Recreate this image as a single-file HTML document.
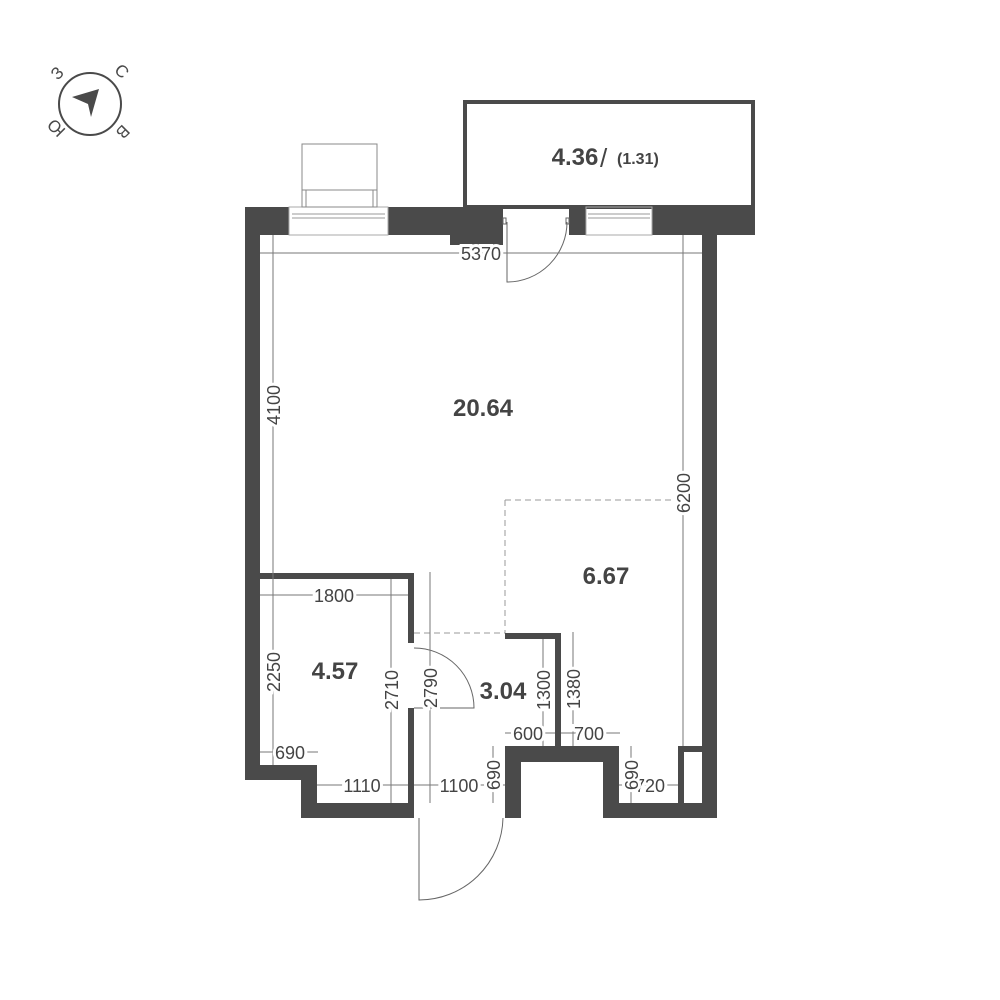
<!DOCTYPE html>
<html><head><meta charset="utf-8"><style>html,body{margin:0;padding:0;background:#fff}svg{display:block}</style></head>
<body>
<svg width="1000" height="1000" viewBox="0 0 1000 1000" xmlns="http://www.w3.org/2000/svg" font-family="Liberation Sans, DejaVu Sans, sans-serif">
<g fill="#4a4a4a">
<circle cx="90" cy="104" r="31" fill="none" stroke="#4a4a4a" stroke-width="2"/>
<path d="M72,97 L99,89 L91,117 L88,104 Z"/>
<g font-size="17" fill="#4a4a4a">
<text x="57" y="79" transform="rotate(-45 57 73)" text-anchor="middle">З</text>
<text x="122" y="77" transform="rotate(45 122 71)" text-anchor="middle">С</text>
<text x="56" y="134" transform="rotate(-135 56 128)" text-anchor="middle">Ю</text>
<text x="123" y="138" transform="rotate(135 123 132)" text-anchor="middle">В</text>
</g>
<rect x="245" y="207" width="44" height="28"/>
<rect x="388" y="207" width="115" height="28"/>
<rect x="450" y="207" width="53" height="38"/>
<rect x="569" y="207" width="17" height="28"/>
<rect x="652" y="207" width="103" height="28"/>
<rect x="245" y="207" width="15" height="573"/>
<rect x="702" y="207" width="15" height="611"/>
<rect x="245" y="573" width="169" height="6"/>
<rect x="408" y="573" width="6" height="70"/>
<rect x="408" y="708" width="6" height="110"/>
<path d="M245,765 L317,765 L317,803 L414,803 L414,818 L301,818 L301,780 L245,780 Z"/>
<rect x="505" y="746" width="16" height="72"/>
<rect x="505" y="746" width="114" height="16"/>
<rect x="603" y="746" width="16" height="72"/>
<rect x="603" y="803" width="114" height="15"/>
<rect x="678" y="746" width="24" height="6"/>
<rect x="678" y="746" width="6" height="57"/>
<rect x="555" y="633" width="6" height="113"/>
<rect x="505" y="633" width="56" height="6"/>
</g>
<g fill="none" stroke="#4a4a4a">
<rect x="465" y="102" width="288" height="105" stroke-width="4"/>
<rect x="289" y="207" width="99" height="28" stroke="#aaa" stroke-width="1"/>
<line x1="292" y1="214" x2="385" y2="214" stroke="#999"/>
<line x1="292" y1="218" x2="385" y2="218" stroke="#999"/>
<rect x="586" y="207" width="66" height="28" stroke="#aaa" stroke-width="1"/>
<line x1="588" y1="214" x2="650" y2="214" stroke="#999"/>
<line x1="588" y1="218" x2="650" y2="218" stroke="#999"/>
<rect x="302" y="144" width="75" height="63" stroke="#888" stroke-width="1"/>
<line x1="302" y1="190" x2="377" y2="190" stroke="#888"/>
<line x1="306" y1="190" x2="306" y2="207" stroke="#888"/>
<line x1="373" y1="190" x2="373" y2="207" stroke="#888"/>
<g stroke-width="1" stroke="#666">
<path d="M507,222 L507,282 A60,60 0 0 0 567,222"/>
<path d="M414,708 L474,708 A60,60 0 0 0 414,648"/>
<path d="M419,818 L419,900 A84,84 0 0 0 503,818"/>
<rect x="503" y="218" width="3" height="6"/><rect x="566" y="218" width="3" height="6"/>
</g>
<g stroke="#999" stroke-dasharray="6,4" stroke-width="1">
<line x1="505" y1="500" x2="505" y2="633"/>
<line x1="505" y1="500" x2="683" y2="500"/>
<line x1="414" y1="633" x2="505" y2="633"/>
</g>
<g stroke="#777" stroke-width="1">
<line x1="260" y1="253" x2="702" y2="253"/>
<line x1="273" y1="235" x2="273" y2="579"/>
<line x1="683" y1="235" x2="683" y2="746"/>
<line x1="260" y1="595" x2="408" y2="595"/>
<line x1="273" y1="579" x2="273" y2="765"/>
<line x1="391" y1="579" x2="391" y2="803"/>
<line x1="430" y1="572" x2="430" y2="803"/>
<line x1="260" y1="752" x2="318" y2="752"/>
<line x1="317" y1="785" x2="408" y2="785"/>
<line x1="414" y1="785" x2="505" y2="785"/>
<line x1="493" y1="746" x2="493" y2="803"/>
<line x1="543" y1="639" x2="543" y2="746"/>
<line x1="573" y1="632" x2="573" y2="746"/>
<line x1="505" y1="733" x2="555" y2="733"/>
<line x1="561" y1="733" x2="620" y2="733"/>
<line x1="631" y1="746" x2="631" y2="803"/>
<line x1="619" y1="785" x2="678" y2="785"/>
</g>
</g>
<g font-size="18" fill="#444">
<g text-anchor="middle">
<text x="481" y="260" style="paint-order:stroke" stroke="#fff" stroke-width="6">5370</text>
<text x="334" y="602" style="paint-order:stroke" stroke="#fff" stroke-width="6">1800</text>
<text x="290" y="759" style="paint-order:stroke" stroke="#fff" stroke-width="6">690</text>
<text x="362" y="792" style="paint-order:stroke" stroke="#fff" stroke-width="6">1110</text>
<text x="459" y="792" style="paint-order:stroke" stroke="#fff" stroke-width="6">1100</text>
<text x="528" y="740" style="paint-order:stroke" stroke="#fff" stroke-width="6">600</text>
<text x="589" y="740" style="paint-order:stroke" stroke="#fff" stroke-width="6">700</text>
<text x="650" y="792" style="paint-order:stroke" stroke="#fff" stroke-width="6">720</text>
<text transform="translate(280,405) rotate(-90)" style="paint-order:stroke" stroke="#fff" stroke-width="6">4100</text>
<text transform="translate(690,493) rotate(-90)" style="paint-order:stroke" stroke="#fff" stroke-width="6">6200</text>
<text transform="translate(280,672) rotate(-90)" style="paint-order:stroke" stroke="#fff" stroke-width="6">2250</text>
<text transform="translate(398,690) rotate(-90)" style="paint-order:stroke" stroke="#fff" stroke-width="6">2710</text>
<text transform="translate(437,688) rotate(-90)" style="paint-order:stroke" stroke="#fff" stroke-width="6">2790</text>
<text transform="translate(550,690) rotate(-90)" style="paint-order:stroke" stroke="#fff" stroke-width="6">1300</text>
<text transform="translate(580,689) rotate(-90)" style="paint-order:stroke" stroke="#fff" stroke-width="6">1380</text>
<text transform="translate(500,775) rotate(-90)" style="paint-order:stroke" stroke="#fff" stroke-width="6">690</text>
<text transform="translate(638,775) rotate(-90)" style="paint-order:stroke" stroke="#fff" stroke-width="6">690</text>
</g>
</g>
<g font-weight="bold" fill="#444" text-anchor="middle">
<text x="483" y="416" font-size="24">20.64</text>
<text x="606" y="584" font-size="24">6.67</text>
<text x="335" y="679" font-size="24">4.57</text>
<text x="503" y="699" font-size="24">3.04</text>
<text x="575" y="165" font-size="24">4.36</text>
</g>
<text x="600" y="167" font-size="26" fill="#444">/</text>
<text x="617" y="164" font-size="16" font-weight="bold" fill="#444">(1.31)</text>
</svg>
</body></html>
